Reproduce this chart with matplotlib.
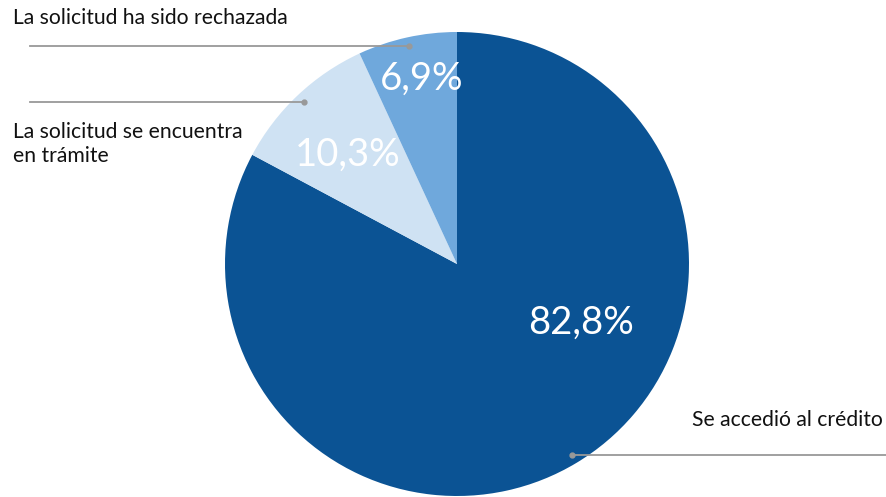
import numpy as np
import matplotlib.pyplot as plt

plt.rcParams['font.family'] = ['Lato', 'DejaVu Sans']

labels = ['Se accedió al crédito', 'La solicitud se encuentra\nen trámite', 'La solicitud ha sido rechazada']
values = [82.8, 10.3, 6.9]
colors = ['#0b5394', '#cfe2f3', '#6fa8dc']

W, H = 886, 497
cx, cy, R = 457, H - 264, 232

fig = plt.figure(figsize=(W / 100, H / 100), dpi=100)
ax = fig.add_axes([0, 0, 1, 1])

wedges, _ = ax.pie(values, colors=colors, startangle=90, counterclock=False,
                   center=(cx, cy), radius=R, wedgeprops=dict(linewidth=0))

ax.set_xlim(0, W)
ax.set_ylim(0, H)
ax.set_aspect('equal')
ax.axis('off')

# percent labels
pct_pos = [(581, H - 323), (348, H - 155), (422, H - 79)]
for v, (x, y) in zip(values, pct_pos):
	ax.text(x, y, ('%.1f%%' % v).replace('.', ','), color='white',
	        fontsize=27.5, ha='center', va='center')

# leader lines with a dot at the slice
line_end = [W, 30, 30]
text_pos = [(883, H - 420, 'right', 'center'),
            (13, H - 144, 'left', 'center'),
            (13, H - 18, 'left', 'center')]
for w, xe, lab, (tx, ty, ha, va) in zip(wedges, line_end, labels, text_pos):
	ang = np.deg2rad((w.theta1 + w.theta2) / 2)
	px = cx + 0.96 * R * np.cos(ang)
	py = cy + 0.96 * R * np.sin(ang)
	ax.plot([px, xe], [py, py], color='#999999', linewidth=1.3, zorder=3)
	ax.plot(px, py, 'o', color='#999999', markersize=3.5, zorder=4)
	ax.text(tx, ty, lab, fontsize=15.2, ha=ha, va=va, color='#111111',
	        linespacing=1.2)

fig.savefig('out.png', dpi=100)
